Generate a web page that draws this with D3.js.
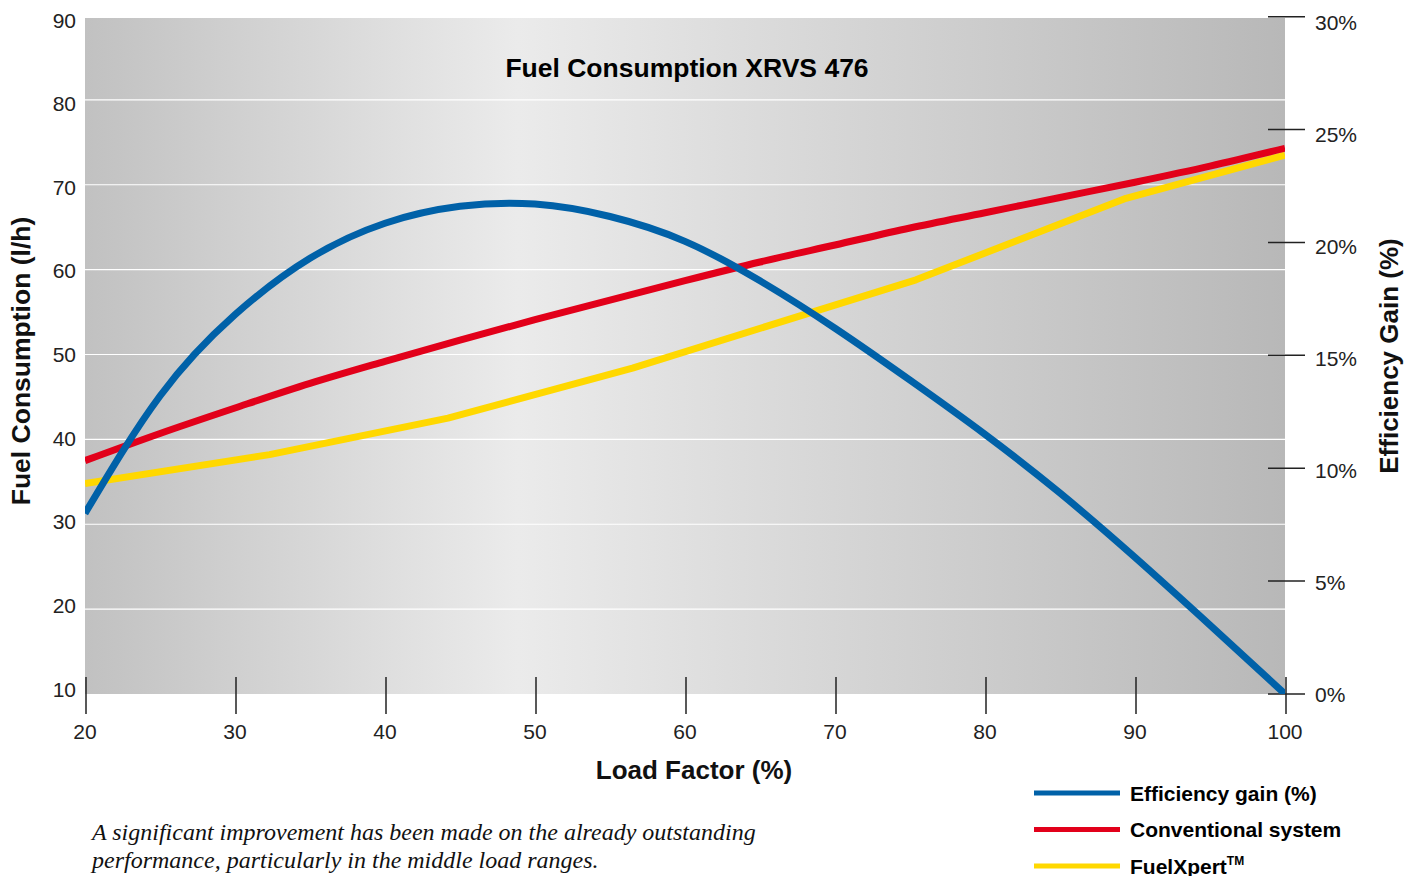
<!DOCTYPE html>
<html><head><meta charset="utf-8">
<script src="https://cdn.jsdelivr.net/npm/d3@7"></script>
<style>body{margin:0;background:#fff}svg{display:block}</style>
</head><body>
<svg id="c" width="1419" height="876"></svg>
<script>
const loadTicks = [20,30,40,50,60,70,80,90,100];
const fuelTicks = [10,20,30,40,50,60,70,80,90];
const gainTicks = [0,5,10,15,20,25,30];

const conventional = [
  {x:20,y:37.5},{x:25,y:40.7},{x:30,y:43.7},{x:35,y:46.6},{x:40,y:49.2},
  {x:45,y:51.7},{x:50,y:54.1},{x:55,y:56.4},{x:60,y:58.7},{x:65,y:60.9},
  {x:70,y:62.9},{x:75,y:64.9},{x:80,y:66.7},{x:85,y:68.5},{x:90,y:70.3},
  {x:95,y:72.2},{x:100,y:74.3}
];
const fuelXpert = [
  {x:20,y:34.8},{x:32.3,y:38.2},{x:44.2,y:42.5},{x:56.5,y:48.4},
  {x:75.4,y:58.8},{x:89.4,y:68.4},{x:100,y:73.5}
];
const efficiency = [
  {x:20,y:8.0},{x:25,y:13.2},{x:30,y:16.8},{x:35,y:19.3},{x:40,y:20.85},
  {x:45,y:21.6},{x:50,y:21.7},{x:55,y:21.15},{x:60,y:20.05},{x:65,y:18.3},
  {x:70,y:16.2},{x:75,y:13.9},{x:80,y:11.5},{x:85,y:8.9},{x:90,y:6.05},
  {x:95,y:3.05},{x:100,y:0}
];

const svg = d3.select("#c");
const x = d3.scaleLinear().domain([20,100]).range([85,1285]);
const y = d3.scaleLinear().domain([10,90]).range([694,15]);
const yLab = d3.scaleLinear().domain([10,90]).range([689,20]);
const y2 = d3.scaleLinear().domain([0,30]).range([694,16.7]);
const y2Lab = d3.scaleLinear().domain([0,30]).range([694,22.5]);
const font = "'Liberation Sans', Arial, sans-serif";

const defs = svg.append("defs");
const g = defs.append("linearGradient").attr("id","bg").attr("x1","0").attr("x2","1").attr("y1","0").attr("y2","0");
g.append("stop").attr("offset","0").attr("stop-color","#c1c1c1");
g.append("stop").attr("offset","0.36").attr("stop-color","#ebebeb");
g.append("stop").attr("offset","1").attr("stop-color","#b8b8b8");
defs.append("clipPath").attr("id","clip").append("rect")
  .attr("x",85).attr("y",18).attr("width",1200).attr("height",676);

svg.append("rect").attr("x",85).attr("y",18).attr("width",1200).attr("height",676).attr("fill","url(#bg)");

// gridlines
svg.append("g").selectAll("line").data(fuelTicks.filter(d=>d>10 && d<90)).join("line")
  .attr("x1",85).attr("x2",1285).attr("y1",d=>y(d)).attr("y2",d=>y(d))
  .attr("stroke","#fff").attr("stroke-width",1.2);

// left axis labels
svg.append("g").selectAll("text").data(fuelTicks).join("text")
  .attr("x",76).attr("y",d=>yLab(d)+7.5).attr("text-anchor","end")
  .attr("font-family",font).attr("font-size",21).attr("fill","#222").text(d=>d);

// bottom ticks
const bx = svg.append("g");
bx.selectAll("line").data(loadTicks).join("line")
  .attr("x1",d=>x(d)+1).attr("x2",d=>x(d)+1).attr("y1",677).attr("y2",714)
  .attr("stroke","#222").attr("stroke-width",1.5);
bx.selectAll("text").data(loadTicks).join("text")
  .attr("x",d=>x(d)).attr("y",739).attr("text-anchor","middle")
  .attr("font-family",font).attr("font-size",21).attr("fill","#222").text(d=>d);

// right ticks
const rx = svg.append("g");
rx.selectAll("line").data(gainTicks).join("line")
  .attr("x1",1268).attr("x2",1305).attr("y1",d=>y2(d)).attr("y2",d=>y2(d))
  .attr("stroke","#222").attr("stroke-width",1.5);
rx.selectAll("text").data(gainTicks).join("text")
  .attr("x",1315).attr("y",d=>y2Lab(d)+7.5)
  .attr("font-family",font).attr("font-size",21).attr("fill","#222").text(d=>d+"%");

// lines
const plot = svg.append("g").attr("clip-path","url(#clip)");
const lineY = d3.line().x(d=>x(d.x)).y(d=>y(d.y));
const lineC = d3.line().x(d=>x(d.x)).y(d=>y(d.y)).curve(d3.curveMonotoneX);
const lineR = d3.line().x(d=>x(d.x)).y(d=>y2(d.y)).curve(d3.curveNatural);
plot.append("path").datum(fuelXpert).attr("d",lineY).attr("fill","none").attr("stroke","#ffd800").attr("stroke-width",7).attr("stroke-linejoin","round");
plot.append("path").datum(conventional).attr("d",lineC).attr("fill","none").attr("stroke","#e2001a").attr("stroke-width",7);
plot.append("path").datum(efficiency).attr("d",lineR).attr("fill","none").attr("stroke","#0061a8").attr("stroke-width",7);

// title
svg.append("text").attr("x",687).attr("y",77).attr("text-anchor","middle")
  .attr("font-family",font).attr("font-weight","bold").attr("font-size",26.5).attr("fill","#000")
  .text("Fuel Consumption XRVS 476");

// axis titles
svg.append("text").attr("transform","translate(30,361) rotate(-90)").attr("text-anchor","middle")
  .attr("font-family",font).attr("font-weight","bold").attr("font-size",26.5).attr("fill","#111")
  .text("Fuel Consumption (l/h)");
svg.append("text").attr("transform","translate(1398,356) rotate(-90)").attr("text-anchor","middle")
  .attr("font-family",font).attr("font-weight","bold").attr("font-size",26).attr("fill","#111")
  .text("Efficiency Gain (%)");
svg.append("text").attr("x",694).attr("y",779).attr("text-anchor","middle")
  .attr("font-family",font).attr("font-weight","bold").attr("font-size",26).attr("fill","#111")
  .text("Load Factor (%)");

// legend
const legend = [
  {label:"Efficiency gain (%)", color:"#0061a8"},
  {label:"Conventional system", color:"#e2001a"},
  {label:"FuelXpert", color:"#ffd800", tm:true}
];
const lg = svg.append("g").selectAll("g").data(legend).join("g")
  .attr("transform",(d,i)=>`translate(0,${793+i*36.5})`);
lg.append("line").attr("x1",1034).attr("x2",1120).attr("y1",0).attr("y2",0)
  .attr("stroke",d=>d.color).attr("stroke-width",5);
const lt = lg.append("text").attr("x",1130).attr("y",7.5)
  .attr("font-family",font).attr("font-weight","bold").attr("font-size",21).attr("fill","#000")
  .text(d=>d.label);
lt.filter(d=>d.tm).append("tspan").attr("dy",-9).attr("font-size",12).text("TM");

// caption
const cap = svg.append("text").attr("font-family","'Liberation Serif', 'Times New Roman', serif")
  .attr("font-style","italic").attr("font-size",24).attr("fill","#111");
cap.append("tspan").attr("x",92).attr("y",840).text("A significant improvement has been made on the already outstanding");
cap.append("tspan").attr("x",92).attr("y",868).text("performance, particularly in the middle load ranges.");
</script>
</body></html>
